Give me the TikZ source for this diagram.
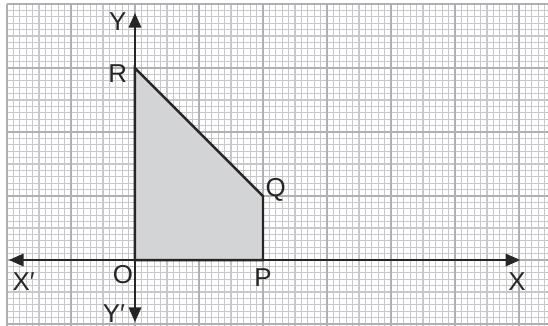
\documentclass[tikz,border=0pt]{standalone}
\usepackage{fontspec}
\setmainfont{Liberation Sans}
\usetikzlibrary{arrows.meta}
\definecolor{minorgrid}{HTML}{C8C8CC}
\definecolor{majorgrid}{HTML}{B0B0B4}
\definecolor{shade}{HTML}{D3D4D6}
\tikzset{
  minorline/.style={draw=minorgrid, line width=0.55pt},
  majorline/.style={draw=majorgrid, line width=1.15pt},
  axisline/.style={draw=black!85, line width=0.9pt, -{Triangle[length=6.5pt,width=5.5pt]}},
  polyline/.style={draw=black!85, fill=shade, line width=1.1pt, line join=miter},
  lbl/.style={font=\fontsize{11.5}{13}\selectfont, text=black!85, inner sep=0pt}
}
\begin{document}
\begin{tikzpicture}
\useasboundingbox[fill=white] (-2.109,-1.016) rectangle (6.453,4.0625);
\begin{scope}
\clip (-2.109,-1.016) rectangle (6.453,4.0625);
\draw[minorline, step=0.1] (-2,-1.1) grid (6.5,4);
\draw[majorline, step=1] (-2,-2) grid (7,4);
\end{scope}
% polygon
\coordinate (O) at (0,0);
\coordinate (P) at (2,0);
\coordinate (Q) at (2,1);
\coordinate (R) at (0,3);
\draw[polyline] (O) -- (P) -- (Q) -- (R) -- cycle;
% axes
\coordinate (xl) at (-1.97,0);
\coordinate (xr) at (6.02,0);
\coordinate (yt) at (0,3.86);
\coordinate (yb) at (0,-0.97);
\draw[axisline] (O) -- (xr);
\draw[axisline] (O) -- (xl);
\draw[axisline] (O) -- (yt);
\draw[axisline] (O) -- (yb);
% labels
\node[lbl] (lY) at (-0.27,3.72) {Y};
\node[lbl] (lR) at (-0.27,2.91) {R};
\node[lbl] (lO) at (-0.19,-0.22) {O};
\node[lbl] (lP) at (2.0,-0.27) {P};
\node[lbl] (lQ) at (2.2,1.09) {Q};
\node[lbl] (lYp) at (-0.33,-0.83) {Y′};
\node[lbl] (lXp) at (-1.74,-0.34) {X′};
\node[lbl] (lX) at (5.97,-0.34) {X};
\end{tikzpicture}
\end{document}
